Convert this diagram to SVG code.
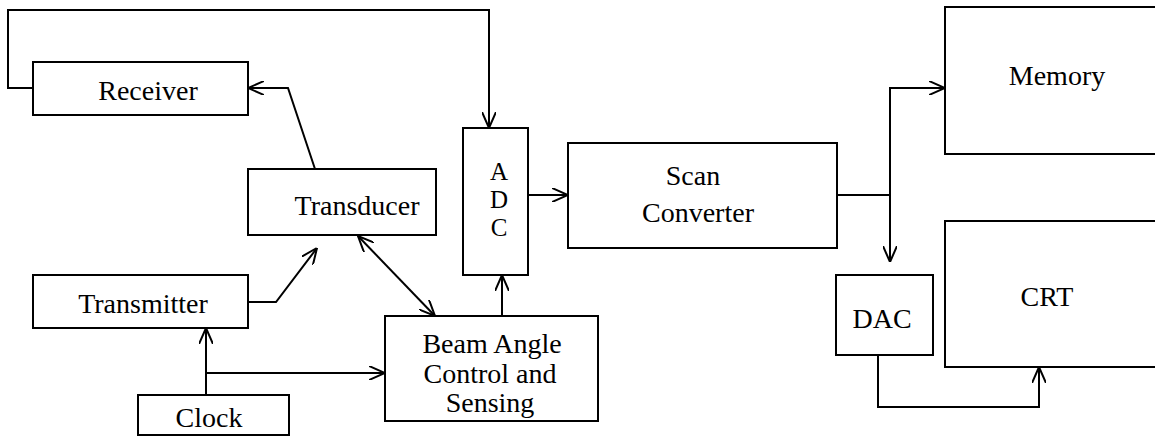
<svg xmlns="http://www.w3.org/2000/svg" width="1155" height="437" viewBox="0 0 1155 437">
<style>
.box{fill:#fff;stroke:#000;stroke-width:2}
.t{font-family:"Liberation Serif","Times New Roman",serif;font-size:28px;fill:#000;text-anchor:middle}
.s{font-size:25px}
.c{fill:none;stroke:#000;stroke-width:2}
</style>
<defs>
<marker id="arr" viewBox="0 0 16 14" refX="16" refY="7" markerWidth="16" markerHeight="14" markerUnits="userSpaceOnUse" orient="auto-start-reverse">
<path d="M0,0 L16,7 L0,14" fill="none" stroke="#000" stroke-width="2"/>
</marker>
</defs>
<rect width="1155" height="437" fill="#fff"/>
<g id="connectors">
<path class="c" d="M33,88 L8,88 L8,10 L489,10 L489,128" marker-end="url(#arr)"/>
<path class="c" d="M315,169 L288,88 L248,88" marker-end="url(#arr)"/>
<path class="c" d="M248,302 L276,302 L317,248" marker-end="url(#arr)"/>
<path class="c" d="M358,236 L435,316" marker-start="url(#arr)" marker-end="url(#arr)"/>
<path class="c" d="M206,395 L206,328" marker-end="url(#arr)"/>
<path class="c" d="M206,373 L385,373" marker-end="url(#arr)"/>
<path class="c" d="M502,316 L502,275" marker-end="url(#arr)"/>
<path class="c" d="M528,195 L568,195" marker-end="url(#arr)"/>
<path class="c" d="M837,195 L890,195 L890,262" marker-end="url(#arr)"/>
<path class="c" d="M890,195 L890,88 L945,88" marker-end="url(#arr)"/>
<path class="c" d="M878,355 L878,407 L1039,407 L1039,367" marker-end="url(#arr)"/>
</g>
<g id="receiver"><rect class="box" x="33" y="62" width="215" height="53"/><text class="t" x="148" y="100">Receiver</text></g>
<g id="transducer"><rect class="box" x="248" y="169" width="188" height="66"/><text class="t" x="357" y="215">Transducer</text></g>
<g id="transmitter"><rect class="box" x="33" y="275" width="215" height="53"/><text class="t" x="143" y="313">Transmitter</text></g>
<g id="clock"><rect class="box" x="138" y="395" width="151" height="40"/><text class="t" x="209" y="427">Clock</text></g>
<g id="beam"><rect class="box" x="385" y="316" width="213" height="105"/><text class="t" x="492" y="353">Beam Angle</text><text class="t" x="490" y="383">Control and</text><text class="t" x="490" y="412">Sensing</text></g>
<g id="adc"><rect class="box" x="463" y="128" width="65" height="147"/><text class="t s" x="499" y="180">A</text><text class="t s" x="499" y="208">D</text><text class="t s" x="499" y="236">C</text></g>
<g id="scan"><rect class="box" x="568" y="143" width="269" height="105"/><text class="t" x="693" y="185">Scan</text><text class="t" x="698" y="222">Converter</text></g>
<g id="memory"><rect class="box" x="945" y="7" width="220" height="147"/><text class="t" x="1057" y="85">Memory</text></g>
<g id="crt"><rect class="box" x="945" y="221" width="220" height="146"/><text class="t" x="1047" y="306">CRT</text></g>
<g id="dac"><rect class="box" x="836" y="275" width="97" height="80"/><text class="t" x="882" y="328">DAC</text></g>
</svg>
